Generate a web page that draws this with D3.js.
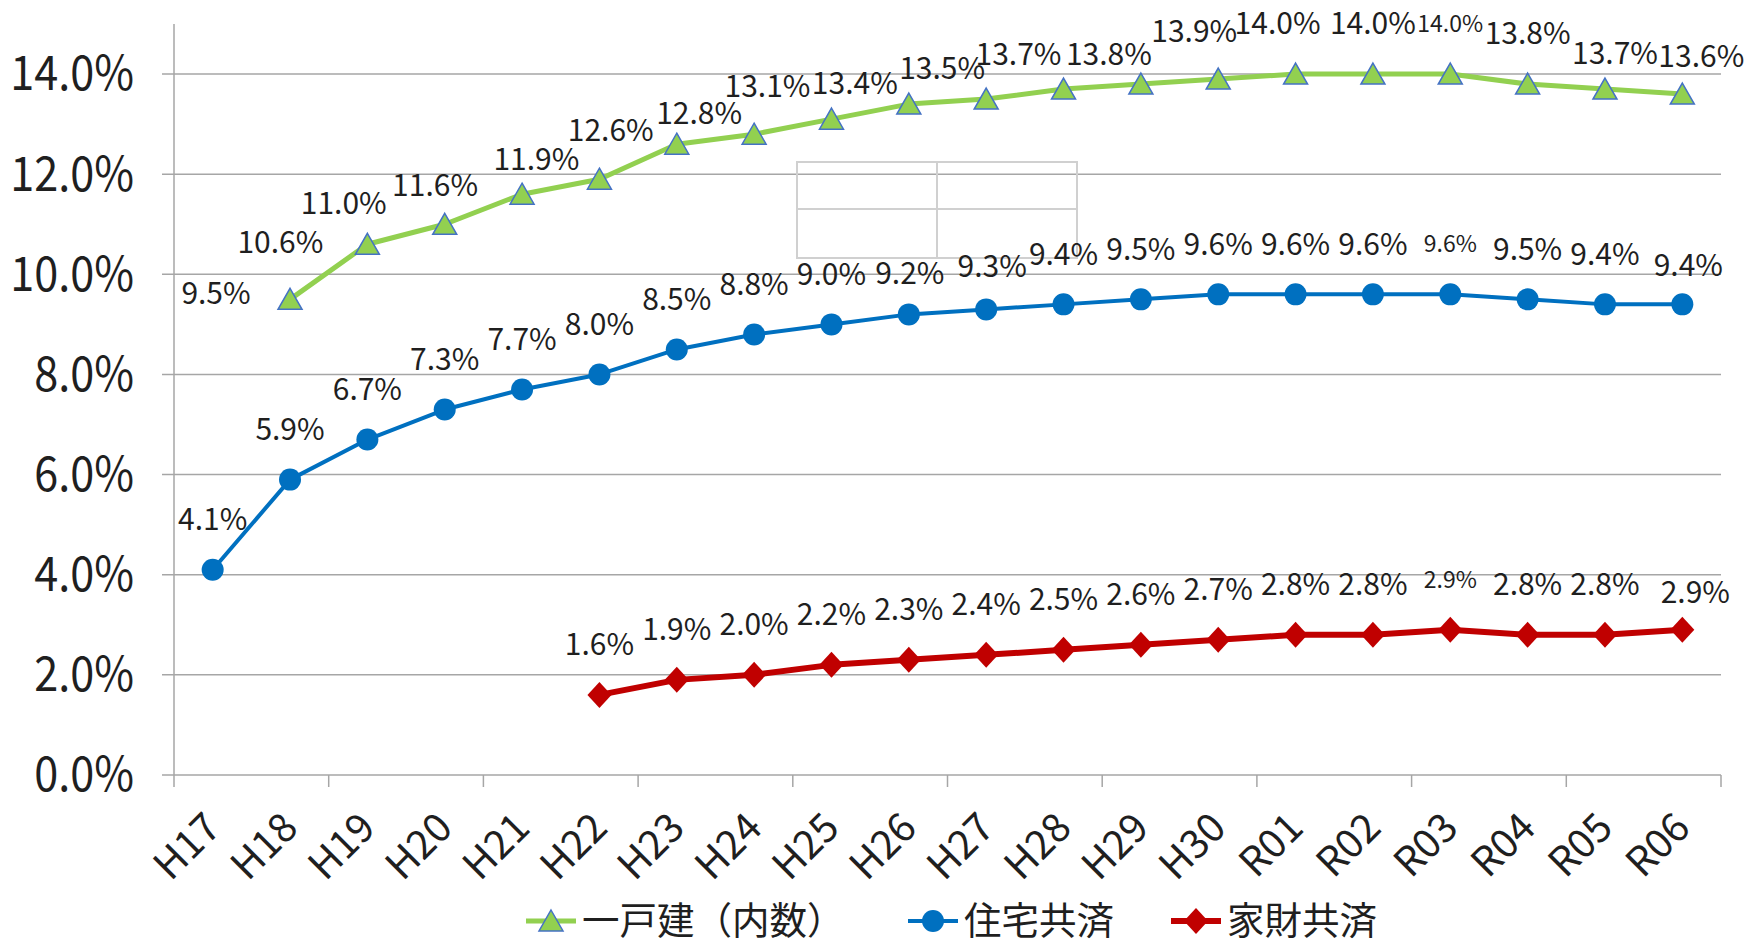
<!DOCTYPE html>
<html>
<head>
<meta charset="utf-8">
<script src="https://cdn.jsdelivr.net/npm/d3@7"></script>
<style>
  body { margin: 0; background: #fff; }
  svg { display: block; }
</style>
</head>
<body>
<div id="chart"></div>
<script>
// categories (fiscal years)
var categories = ["H17", "H18", "H19", "H20", "H21", "H22", "H23", "H24", "H25", "H26",
  "H27", "H28", "H29", "H30", "R01", "R02", "R03", "R04", "R05", "R06"];

// 一戸建（内数）
var kodate = [null, 0.095, 0.106, 0.110, 0.116, 0.119, 0.126, 0.128, 0.131, 0.134,
  0.135, 0.137, 0.138, 0.139, 0.140, 0.140, 0.140, 0.138, 0.137, 0.136];
// 住宅共済
var jutaku = [0.041, 0.059, 0.067, 0.073, 0.077, 0.080, 0.085, 0.088, 0.090, 0.092,
  0.093, 0.094, 0.095, 0.096, 0.096, 0.096, 0.096, 0.095, 0.094, 0.094];
// 家財共済
var kazai = [null, null, null, null, null, 0.016, 0.019, 0.020, 0.022, 0.023,
  0.024, 0.025, 0.026, 0.027, 0.028, 0.028, 0.029, 0.028, 0.028, 0.029];

var seriesNames = ["一戸建（内数）", "住宅共済", "家財共済"];
var yTicks = [0, 0.02, 0.04, 0.06, 0.08, 0.10, 0.12, 0.14];

// label placement tweaks (px from marker), as moved by hand in the original
var kodateLabelShift = {
  H18: [-74, -6], H19: [-87, -1], H20: [-101, -20], H21: [-87, -8], H22: [-63, -19],
  H23: [-66, -13], H24: [-55, -20], H25: [-64, -32], H26: [-54, -20], H27: [-44, -30],
  H28: [-45, -34], H29: [-32, -29], H30: [-24, -47], R01: [-18, -50], R05: [10, -35], R06: [19, -37]
};
var jutakuLabelShift = { H26: [1, -41], H27: [6, -43], R06: [6, -39] };
var kazaiLabelShift = { R06: [13, -37] };
var smallLabel = ["R03"];

var svgWidth = 1756, svgHeight = 944;
var margin = { top: 24, right: 35, bottom: 169, left: 174 };
var width = svgWidth - margin.left - margin.right;
var height = svgHeight - margin.top - margin.bottom;

var font = "'Noto Sans CJK JP', sans-serif";

var svg = d3.select("#chart")
  .append("svg")
  .attr("width", svgWidth)
  .attr("height", svgHeight)
  .attr("font-family", font);

var g = svg.append("g")
  .attr("transform", `translate(${margin.left}, ${margin.top})`);

var x = d3.scaleBand().domain(categories).range([0, width]).padding(0);
var y = d3.scaleLinear().domain([0, 0.15]).range([height, 0]);
var cx = d => x(d) + x.bandwidth() / 2;

// gridlines + y labels
g.selectAll(".grid")
  .data(yTicks)
  .enter()
  .append("line")
  .attr("x1", -12)
  .attr("x2", width)
  .attr("y1", d => y(d))
  .attr("y2", d => y(d))
  .attr("stroke", "#a6a6a6")
  .attr("stroke-width", 1.5);

g.selectAll(".ylab")
  .data(yTicks)
  .enter()
  .append("text")
  .attr("transform", d => `translate(-40, ${y(d)}) scale(0.9, 1)`)
  .attr("dy", "0.34em")
  .attr("text-anchor", "end")
  .attr("font-size", 48)
  .attr("fill", "#1f1f1f")
  .text(d => d3.format(".1%")(d));

// y axis line
g.append("line")
  .attr("x1", 0).attr("x2", 0)
  .attr("y1", 0).attr("y2", height)
  .attr("stroke", "#a6a6a6")
  .attr("stroke-width", 1.5);

// x tick marks every 2 categories
var tickIdx = d3.range(0, categories.length + 1, 2);
g.selectAll(".xtick")
  .data(tickIdx)
  .enter()
  .append("line")
  .attr("x1", i => i * x.step())
  .attr("x2", i => i * x.step())
  .attr("y1", height)
  .attr("y2", height + 12)
  .attr("stroke", "#a6a6a6")
  .attr("stroke-width", 1.5);

g.selectAll(".xlab")
  .data(categories)
  .enter()
  .append("text")
  .attr("transform", d => `translate(${cx(d) + 10}, ${height + 55}) rotate(-45)`)
  .attr("text-anchor", "end")
  .attr("font-size", 40)
  .attr("fill", "#1f1f1f")
  .text(d => d);

// empty table artefact in the original
var boxG = g.append("g").attr("fill", "none").attr("stroke", "#d0d0d0").attr("stroke-width", 2);
boxG.append("rect").attr("x", 797 - margin.left).attr("y", 162 - margin.top).attr("width", 280).attr("height", 96);
boxG.append("line").attr("x1", 937 - margin.left).attr("x2", 937 - margin.left).attr("y1", 162 - margin.top).attr("y2", 258 - margin.top);
boxG.append("line").attr("x1", 797 - margin.left).attr("x2", 1077 - margin.left).attr("y1", 209 - margin.top).attr("y2", 209 - margin.top);

// series
var triangle = "M0,-11L12,10L-12,10Z";
var circle = d3.symbol().type(d3.symbolCircle).size(Math.PI * 11 * 11)();
var diamond = "M0,-13L12,0L0,13L-12,0Z";

var series = [
  { name: seriesNames[0], values: kodate, color: "#92d050", lw: 5, marker: triangle, mstroke: "#4472c4", shift: kodateLabelShift },
  { name: seriesNames[1], values: jutaku, color: "#0070c0", lw: 4, marker: circle, mstroke: "none", shift: jutakuLabelShift },
  { name: seriesNames[2], values: kazai, color: "#c00000", lw: 6, marker: diamond, mstroke: "none", shift: kazaiLabelShift }
];

var line = d3.line()
  .defined(d => d.v != null)
  .x(d => cx(d.c))
  .y(d => y(d.v));

series.forEach(function (s) {
  var pts = categories.map((c, i) => ({ c: c, v: s.values[i] }));
  var valid = pts.filter(d => d.v != null);

  g.append("path")
    .datum(pts)
    .attr("fill", "none")
    .attr("stroke", s.color)
    .attr("stroke-width", s.lw)
    .attr("stroke-linejoin", "round")
    .attr("d", line);

  g.selectAll(null)
    .data(valid)
    .enter()
    .append("path")
    .attr("transform", d => `translate(${cx(d.c)}, ${y(d.v)})`)
    .attr("d", s.marker)
    .attr("fill", s.color)
    .attr("stroke", s.mstroke)
    .attr("stroke-width", 1.5);

  g.selectAll(null)
    .data(valid)
    .enter()
    .append("text")
    .attr("x", d => cx(d.c) + (s.shift[d.c] ? s.shift[d.c][0] : 0))
    .attr("y", d => y(d.v) + (s.shift[d.c] ? s.shift[d.c][1] : -50))
    .attr("dy", "0.34em")
    .attr("text-anchor", "middle")
    .attr("font-size", d => smallLabel.includes(d.c) ? 23 : 30)
    .attr("fill", "#1f1f1f")
    .text(d => d3.format(".1%")(d.v));
});

// legend
var legendX = [526, 908, 1171];
var legend = svg.append("g");
series.forEach(function (s, i) {
  var lx = legendX[i], ly = 921;
  legend.append("line")
    .attr("x1", lx).attr("x2", lx + 50)
    .attr("y1", ly).attr("y2", ly)
    .attr("stroke", s.color)
    .attr("stroke-width", s.lw);
  legend.append("path")
    .attr("transform", `translate(${lx + 25}, ${ly})`)
    .attr("d", s.marker)
    .attr("fill", s.color)
    .attr("stroke", s.mstroke)
    .attr("stroke-width", 1.5);
  legend.append("text")
    .attr("x", lx + 56)
    .attr("y", ly)
    .attr("dy", "0.35em")
    .attr("font-size", 37.5)
    .attr("fill", "#1f1f1f")
    .text(s.name);
});
</script>
</body>
</html>
